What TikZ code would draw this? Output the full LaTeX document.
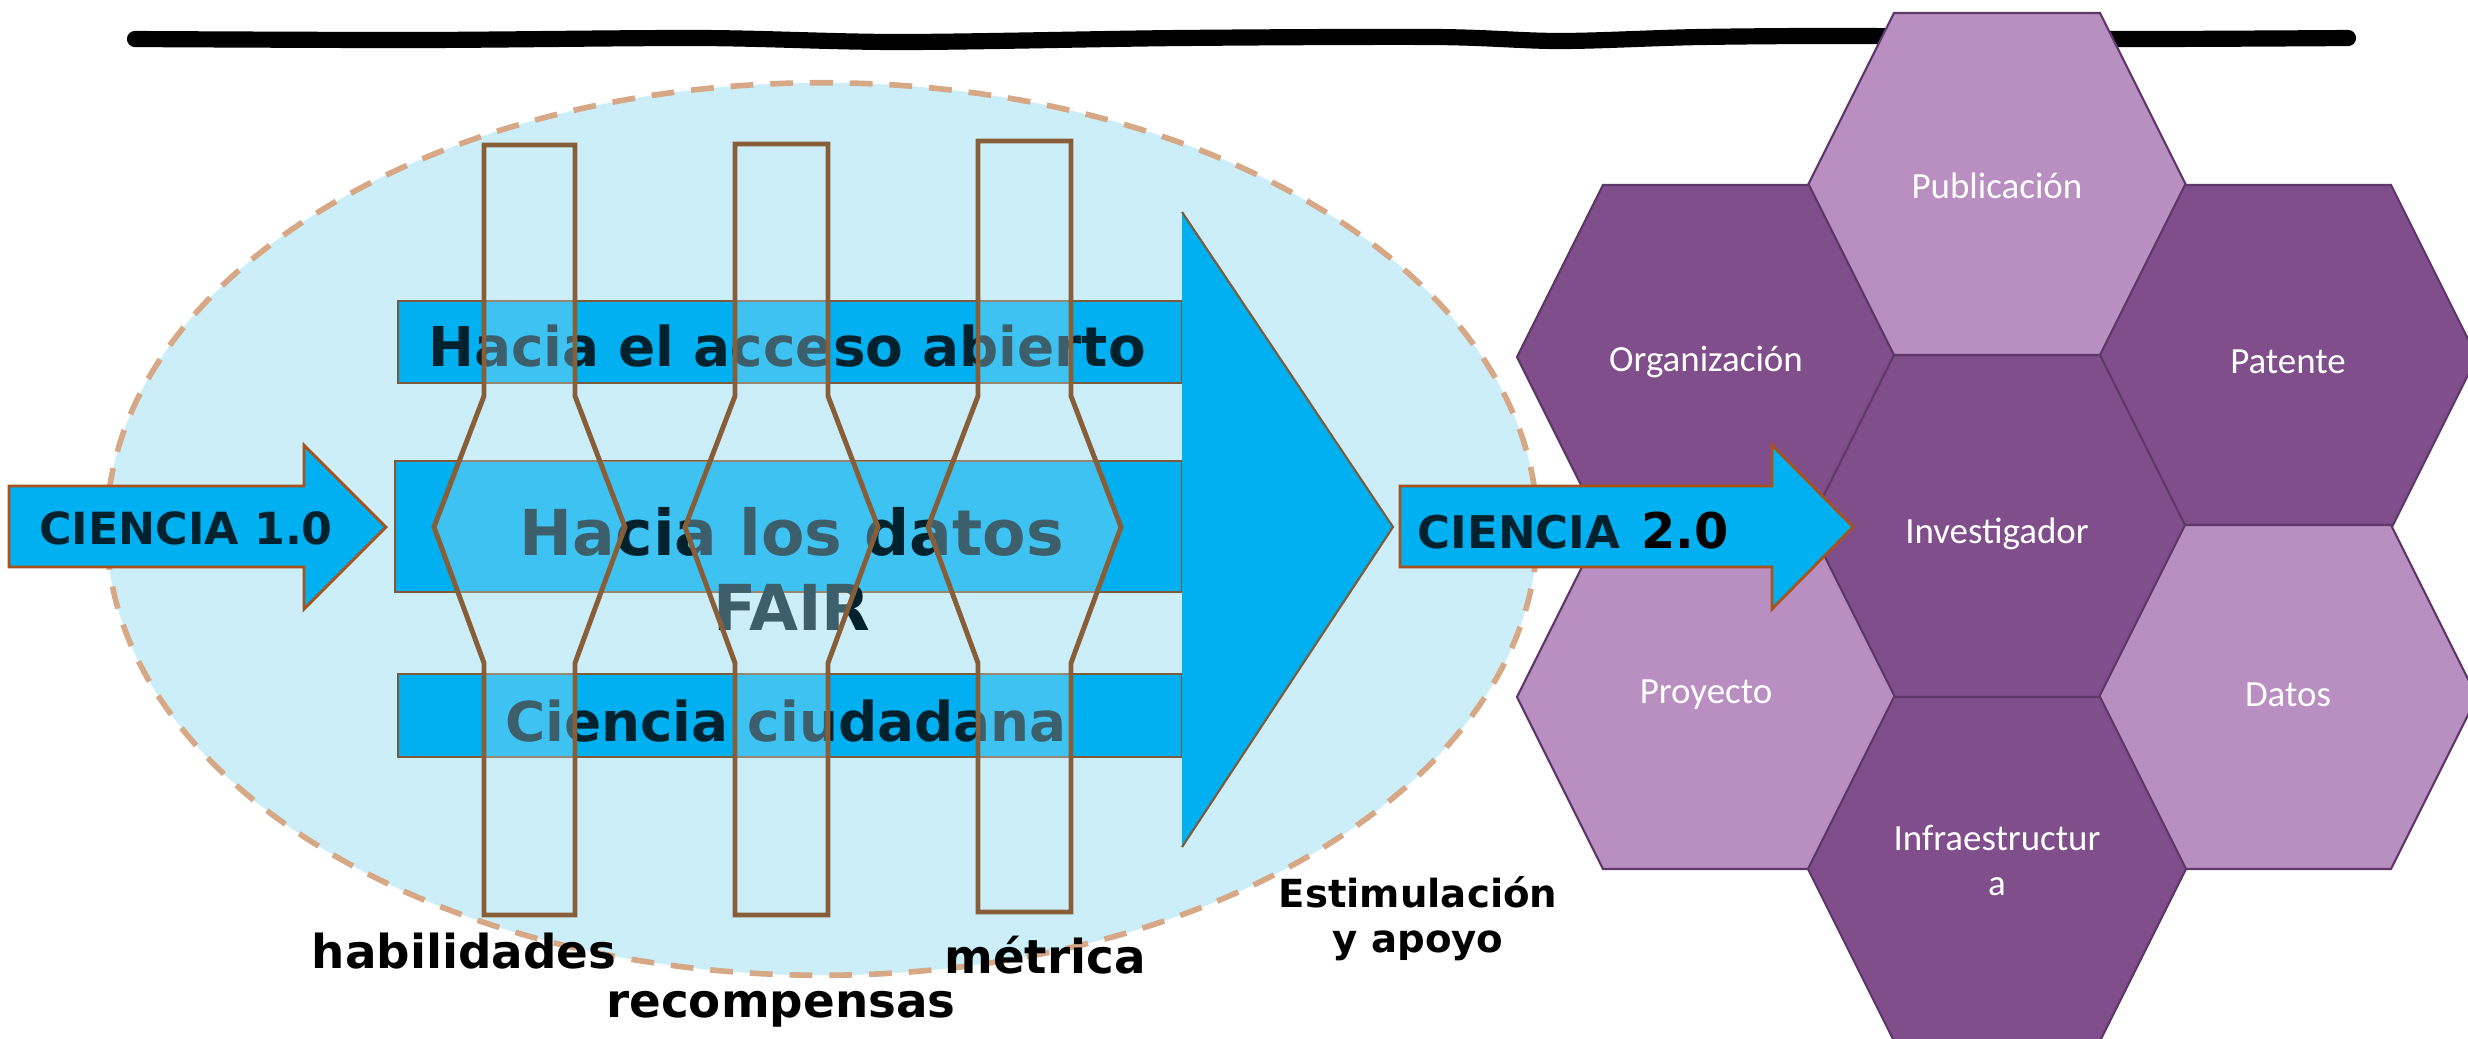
\documentclass[tikz,border=0pt]{standalone}
\usepackage{fontspec}
\setmainfont{DejaVu Sans}
\newfontfamily\hexfont{Carlito}

\definecolor{bandblue}{HTML}{00B0F0}
\definecolor{paleblue}{HTML}{CCEEF9}
\definecolor{tanline}{HTML}{D6A886}
\definecolor{bandline}{HTML}{7F5A38}
\definecolor{gateline}{HTML}{875E38}
\definecolor{arrowline}{HTML}{A8521C}
\definecolor{darktext}{HTML}{00212E}
\definecolor{hexdark}{HTML}{804E8A}
\definecolor{hexlight}{HTML}{B88FC0}
\definecolor{hexline}{HTML}{5E3868}

\begin{document}
\begin{tikzpicture}[x=0.01cm,y=-0.01cm,
  bandbox/.style={draw=bandline,line width=0.6pt,fill=bandblue},
  bandtext/.style={text=darktext,inner sep=0pt,font=\bfseries\fontsize{15.6}{18}\selectfont},
  gatebox/.style={draw=gateline,line width=1.4pt,fill=paleblue,fill opacity=.3},
  bluearrow/.style={draw=arrowline,line width=0.8pt,fill=bandblue},
  hexcell/.style={draw=hexline,line width=0.6pt},
  hexlabel/.style={text=white,font=\hexfont\fontsize{10.5}{12.8}\selectfont,align=center,inner sep=0pt},
  bottomlabel/.style={font=\bfseries\fontsize{13.3}{15}\selectfont,anchor=base,inner sep=0pt}]
\useasboundingbox (0,0) rectangle (2468,1038);

% hand drawn rule
\draw[line width=4.6pt,line cap=round] plot[smooth] coordinates {(135,39) (420,40) (700,38) (900,42) (1180,38) (1436,37) (1560,41) (1700,37) (1866,36) (2100,39) (2348,38)};

\draw[draw=tanline,line width=1.6pt,dash pattern=on 6.5pt off 4.8pt,fill=paleblue] (822,529) ellipse [x radius=7.15cm,y radius=4.46cm];

% bands
\draw[bandbox] (398,301) rectangle (1182,383);
\draw[bandbox] (395,461) rectangle (1182,592);
\draw[bandbox] (398,674) rectangle (1182,757);
\begin{scope}
  \clip (395,461) rectangle (1182,592);
  \fill[paleblue,opacity=.3] (575,396) -- (625,527) -- (575,663) -- (735,663) -- (685,527) -- (735,396) -- cycle;
  \fill[paleblue,opacity=.3] (828,396) -- (878,527) -- (828,663) -- (978,663) -- (928,527) -- (978,396) -- cycle;
\end{scope}
\fill[bandblue] (1182,212) -- (1393,527) -- (1182,847) -- cycle;
\draw[bandline,line width=0.6pt] (1182,212) -- (1393,527) -- (1182,847);

\node[bandtext] (acceso) at (787,346) {Hacia el acceso abierto};
\node[bandtext,font=\bfseries\fontsize{18}{21.3}\selectfont,align=center] (fair) at (792,568.5) {Hacia los datos\\FAIR};
\node[bandtext] (ciudadana) at (786,721) {Ciencia ciudadana};

% gates
\foreach \xl/\xr/\ytop/\ybot in {484/575/145/915, 735/828/144/915, 978/1071/141/912}
  \draw[gatebox] (\xl,\ytop) -- (\xr,\ytop) -- (\xr,396) -- ({\xr+50},527) -- (\xr,663) -- (\xr,\ybot) -- (\xl,\ybot) -- (\xl,663) -- ({\xl-50},527) -- (\xl,396) -- cycle;

% ciencia 1.0
\draw[bluearrow] (9,486) -- (304,486) -- (304,445) -- (386,527) -- (304,609) -- (304,567) -- (9,567) -- cycle;
\node[text=darktext,inner sep=0pt,font=\bfseries\fontsize{12.6}{14}\selectfont] (cien1) at (186,528.5) {CIENCIA 1.0};

% hexagons
\foreach \cx/\cy/\ty/\shade/\name/\txt in {1997/185/186/hexlight/publicacion/Publicación, 1706/357/362/hexdark/organizacion/Organización, 2288/357/362/hexdark/patente/Patente, 1997/527/534/hexdark/investigador/Investigador, 1706/697/695/hexlight/proyecto/Proyecto, 2288/697/695/hexlight/datos/Datos, 1997/869/860/hexdark/infra/{Infraestructur\\a}} {
  \draw[hexcell,fill=\shade] ({\cx-189},\cy) -- ({\cx-103},{\cy-172}) -- ({\cx+103},{\cy-172}) -- ({\cx+189},\cy) -- ({\cx+103},{\cy+172}) -- ({\cx-103},{\cy+172}) -- cycle;
  \node[hexlabel] (\name) at (\cx,\ty) {\txt};
}

% ciencia 2.0
\draw[bluearrow] (1400,486) -- (1772,486) -- (1772,445) -- (1853,527) -- (1772,609) -- (1772,567) -- (1400,567) -- cycle;
\node[text=darktext,inner sep=0pt,font=\bfseries\fontsize{12.8}{14}\selectfont] (cien2) at (1573,530.5) {CIENCIA\hspace{1.5pt} \textcolor{black}{\fontsize{14}{14}\selectfont 2.0}};

\node[bottomlabel] (habilidades) at (464,968) {habilidades};
\node[bottomlabel] (recompensas) at (781,1017) {recompensas};
\node[bottomlabel] (metrica) at (1045,973) {métrica};
\node[font=\bfseries\fontsize{11}{12.8}\selectfont,align=center,inner sep=0pt] (apoyo) at (1418,918.5) {Estimulación\\y apoyo};
\end{tikzpicture}
\end{document}
